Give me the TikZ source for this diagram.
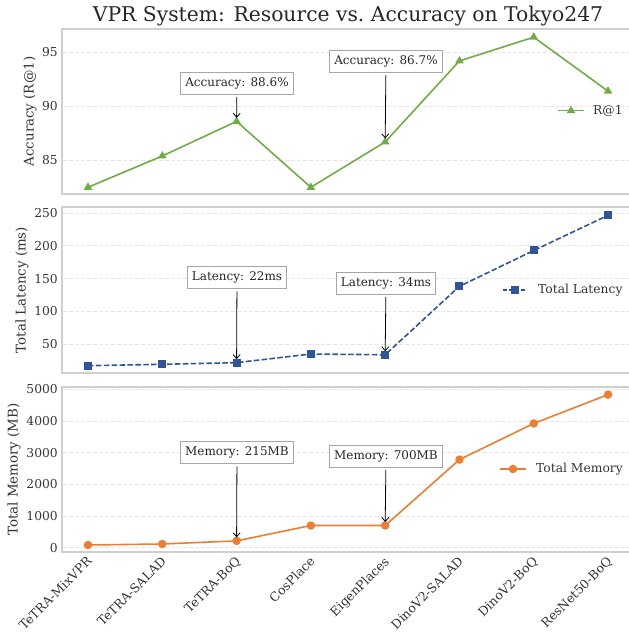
\documentclass[tikz,border=0pt]{standalone}
\usepackage{fontspec}
\setmainfont{DejaVu Serif}
\usetikzlibrary{arrows,arrows.meta,positioning,shapes.geometric,calc}
\definecolor{accgreen}{HTML}{70AD47}
\definecolor{latblue}{HTML}{2F5597}
\definecolor{memorange}{HTML}{ED7D31}
\definecolor{framegray}{HTML}{CFCFCF}
\definecolor{gridgray}{HTML}{E6E6E6}

\begin{document}
\begin{tikzpicture}[x=1pt,y=1pt,>={Straight Barb[length=4pt,width=7pt]},
    framebox/.style={draw=framegray,line width=1.2pt},
    gridline/.style={draw=gridgray,line width=0.8pt,dash pattern=on 4pt off 2pt},
    ticklab/.style={anchor=east,inner sep=0pt,font=\fontsize{12.3}{14}\selectfont,text=black!80},
    axlab/.style={rotate=90,inner sep=0pt,font=\fontsize{13.4}{15}\selectfont,text=black!80},
    xlab/.style={rotate=45,anchor=north east,inner sep=0pt,font=\fontsize{12.5}{15}\selectfont,text=black!80},
    note/.style={draw=black!35,fill=white,line width=0.9pt,inner xsep=4.5pt,inner ysep=0pt,
      minimum height=22pt,font=\fontsize{12}{14}\selectfont,text=black!85},
    notearrow/.style={->,line width=0.8pt,shorten >=3.5pt,shorten <=2.5pt},
    legtext/.style={anchor=west,inner sep=0pt,font=\fontsize{12.3}{14}\selectfont,text=black!80},
    accline/.style={draw=accgreen,line width=1.6pt,line join=round},
    latline/.style={draw=latblue,line width=1.6pt,dash pattern=on 5.5pt off 2.4pt},
    memline/.style={draw=memorange,line width=1.6pt,line join=round},
    trimark/.style={regular polygon,regular polygon sides=3,fill=accgreen,inner sep=0pt,minimum size=10pt},
    sqmark/.style={rectangle,fill=latblue,inner sep=0pt,minimum size=8pt},
    dotmark/.style={circle,fill=memorange,inner sep=0pt,minimum size=8.5pt}]
  \useasboundingbox (0,0) rectangle (629,632);

  % title
  \node[font=\fontsize{20.3}{23}\selectfont,text=black!85] (title) at (348,616) {VPR System: Resource vs.\ Accuracy on Tokyo247};

  % frames of the three panels
  \draw[framebox] (629,603) -- (62,603) -- (62,438) -- (629,438);
  \draw[framebox] (629,425) -- (62,425) -- (62,259) -- (629,259);
  \draw[framebox] (629,245) -- (62,245) -- (62,80) -- (629,80);

  % panel 1: accuracy
  \begin{scope}[yshift=-446.3pt,y=10.8pt]
    \foreach \t in {85,90,95} {
      \draw[gridline] (63,\t) -- (629,\t);
      \node[ticklab] (ya\t) at (58,\t) {\t};
    }
    \foreach \v [count=\i] in {82.5,85.4,88.6,82.5,86.7,94.2,96.4,91.4}
      \coordinate (a\i) at ({88+74.29*(\i-1)},\v);
  \end{scope}
  \node[axlab] (ylaba) at (30,520.5) {Accuracy (R@1)};
  \draw[accline] (a1) -- (a2) -- (a3) -- (a4) -- (a5) -- (a6) -- (a7) -- (a8);
  \foreach \i in {1,...,8} \node[trimark] (ma\i) at (a\i) {};
  \node[note] (na1) at (237,549) {Accuracy: 88.6\%};
  \node[note] (na2) at (386,570.5) {Accuracy: 86.7\%};
  \draw[notearrow] (na1) -- (a3);
  \draw[notearrow] (na2) -- (a5);
  \coordinate (lga1) at (558,521.3);
  \coordinate (lga2) at (584,521.3);
  \draw[accline] (lga1) -- (lga2);
  \node[trimark] (lgam) at ($(lga1)!0.5!(lga2)$) {};
  \node[legtext,right=9pt of lga2] (lgat) {R@1};

  % panel 2: latency
  \begin{scope}[yshift=254.9pt,y=0.656pt]
    \foreach \t in {50,100,150,200,250} {
      \draw[gridline] (63,\t) -- (629,\t);
      \node[ticklab] (yl\t) at (58,\t) {\t};
    }
    \foreach \v [count=\i] in {17.4,19.5,22,35.2,34,138.4,193,246.6}
      \coordinate (l\i) at ({88+74.29*(\i-1)},\v);
  \end{scope}
  \node[axlab] (ylabl) at (22,342) {Total Latency (ms)};
  \draw[latline] (l1) -- (l2) -- (l3) -- (l4) -- (l5) -- (l6) -- (l7) -- (l8);
  \foreach \i in {1,...,8} \node[sqmark] (ml\i) at (l\i) {};
  \node[note] (nl1) at (237,354.5) {Latency: 22ms};
  \node[note] (nl2) at (386,349) {Latency: 34ms};
  \draw[notearrow] (nl1) -- (l3);
  \draw[notearrow] (nl2) -- (l5);
  \coordinate (lgl1) at (503,342);
  \coordinate (lgl2) at (527,342);
  \draw[latline,dash pattern=on 4pt off 2pt] (lgl1) -- (lgl2);
  \node[sqmark] (lglm) at ($(lgl1)!0.5!(lgl2)$) {};
  \node[legtext,right=11pt of lgl2] (lglt) {Total Latency};

  % panel 3: memory
  \begin{scope}[yshift=84.3pt,y=0.0317pt]
    \foreach \t in {0,1000,2000,3000,4000,5000} {
      \draw[gridline] (63,\t) -- (629,\t);
      \node[ticklab] (ym\t) at (58,\t) {\t};
    }
    \foreach \v [count=\i] in {85,117,215,700,700,2780,3920,4830}
      \coordinate (m\i) at ({88+74.29*(\i-1)},\v);
  \end{scope}
  \node[axlab] (ylabm) at (14,162.5) {Total Memory (MB)};
  \draw[memline] (m1) -- (m2) -- (m3) -- (m4) -- (m5) -- (m6) -- (m7) -- (m8);
  \foreach \i in {1,...,8} \node[dotmark] (mm\i) at (m\i) {};
  \node[note] (nm1) at (237,179.5) {Memory: 215MB};
  \node[note] (nm2) at (386,176) {Memory: 700MB};
  \draw[notearrow] (nm1) -- (m3);
  \draw[notearrow] (nm2) -- (m5);
  \coordinate (lgm1) at (500,163);
  \coordinate (lgm2) at (526,163);
  \draw[memline] (lgm1) -- (lgm2);
  \node[dotmark] (lgmm) at ($(lgm1)!0.5!(lgm2)$) {};
  \node[legtext,right=10pt of lgm2] (lgmt) {Total Memory};

  % category labels
  \foreach \name [count=\i] in {TeTRA-MixVPR,TeTRA-SALAD,TeTRA-BoQ,CosPlace,EigenPlaces,DinoV2-SALAD,DinoV2-BoQ,ResNet50-BoQ}
    \node[xlab] (xl\i) at ({88+74.29*(\i-1)-2},76.5) {\name};
\end{tikzpicture}
\end{document}
